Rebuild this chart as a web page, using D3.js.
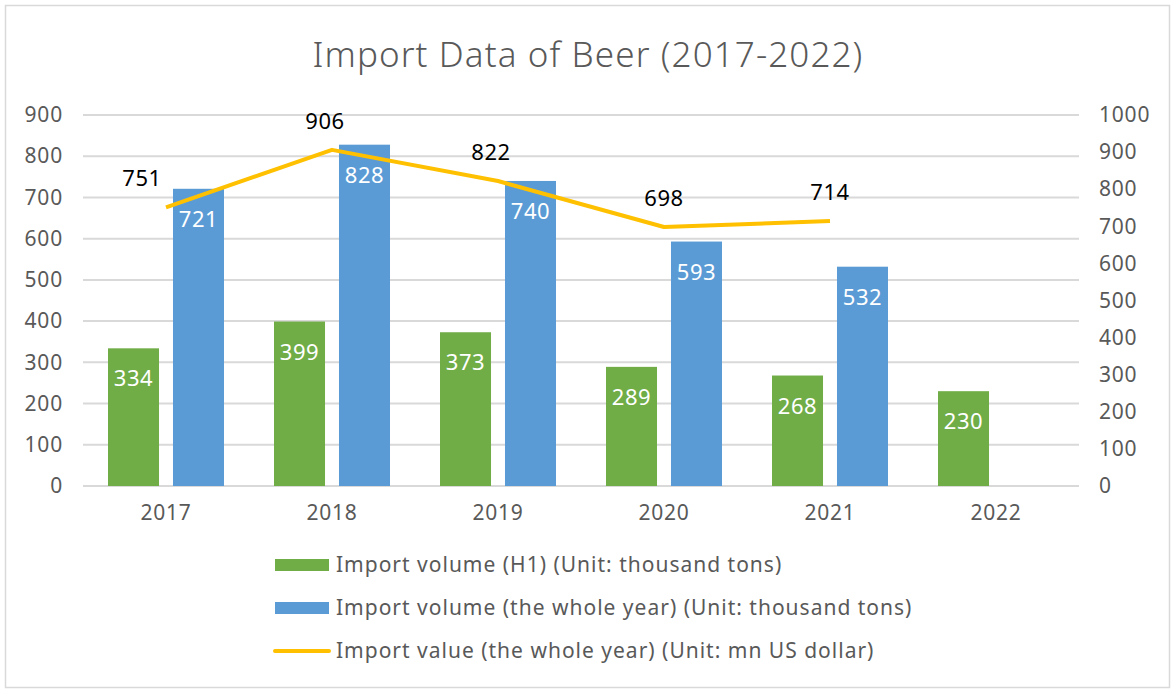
<!DOCTYPE html>
<html>
<head>
    <title>Import Data of Beer</title>
    <script src="https://d3js.org/d3.v7.min.js"></script>
    <style>
        body { margin: 0; background: #fff; }
        text { font-family: "Noto Sans", "DejaVu Sans", sans-serif; }
        .tick-label { font-size: 21px; fill: #595959; letter-spacing: 0.8px; }
        .grid line { stroke: #d9d9d9; stroke-width: 2; }
    </style>
</head>
<body>
    <svg width="1175" height="693"></svg>

    <script>
        // Chart data
        const years = ["2017", "2018", "2019", "2020", "2021", "2022"];
        const volumeH1 = [334, 399, 373, 289, 268, 230];
        const volumeYear = [721, 828, 740, 593, 532, null];
        const valueYear = [751, 906, 822, 698, 714, null];
        const leftTicks = [0, 100, 200, 300, 400, 500, 600, 700, 800, 900];
        const rightTicks = [0, 100, 200, 300, 400, 500, 600, 700, 800, 900, 1000];
        const seriesNames = [
            "Import volume (H1) (Unit: thousand tons)",
            "Import volume (the whole year) (Unit: thousand tons)",
            "Import value (the whole year) (Unit: mn US dollar)"
        ];

        const green = "#70ad47", blue = "#5b9bd5", gold = "#ffc000";

        const svg = d3.select("svg");
        const width = +svg.attr("width");
        const height = +svg.attr("height");

        // outer frame
        svg.append("rect")
            .attr("x", 5.5).attr("y", 5.5)
            .attr("width", width - 11).attr("height", height - 11)
            .attr("fill", "#fff")
            .attr("stroke", "#d9d9d9")
            .attr("stroke-width", 1.5);

        const plot = { left: 83, right: 1079, top: 115, bottom: 486 };

        const x = d3.scaleBand()
            .domain(years)
            .range([plot.left, plot.right]);

        const inner = d3.scaleBand()
            .domain([0, 1])
            .range([0, 116])
            .paddingInner(0.215);

        const yLeft = d3.scaleLinear().domain([0, 900]).range([plot.bottom, plot.top]);
        const yRight = d3.scaleLinear().domain([0, 1000]).range([plot.bottom, plot.top]);

        // title
        svg.append("text")
            .attr("x", 588)
            .attr("y", 67)
            .attr("text-anchor", "middle")
            .attr("font-size", 35)
            .attr("font-weight", 300)
            .attr("letter-spacing", 1.1)
            .attr("fill", "#595959")
            .text("Import Data of Beer (2017-2022)");

        // gridlines
        svg.append("g")
            .attr("class", "grid")
            .selectAll("line")
            .data(leftTicks)
            .enter().append("line")
            .attr("x1", plot.left)
            .attr("x2", plot.right)
            .attr("y1", d => yLeft(d))
            .attr("y2", d => yLeft(d));

        // left axis
        const leftAxis = svg.append("g")
            .attr("transform", `translate(${plot.left - 20},0)`)
            .call(d3.axisLeft(yLeft).tickValues(leftTicks).tickFormat(d3.format("d")).tickSize(0).tickPadding(0));
        leftAxis.select(".domain").remove();
        leftAxis.selectAll("text").attr("class", "tick-label").attr("font-size", null).attr("fill", null);

        // right axis
        const rightAxis = svg.append("g")
            .attr("transform", `translate(${plot.right + 20},0)`)
            .call(d3.axisRight(yRight).tickValues(rightTicks).tickFormat(d3.format("d")).tickSize(0).tickPadding(0));
        rightAxis.select(".domain").remove();
        rightAxis.selectAll("text").attr("class", "tick-label").attr("font-size", null).attr("fill", null);

        // bottom axis
        const bottomAxis = svg.append("g")
            .attr("transform", `translate(0,${plot.bottom + 19})`)
            .call(d3.axisBottom(x).tickSize(0).tickPadding(0));
        bottomAxis.select(".domain").remove();
        bottomAxis.selectAll("text").attr("class", "tick-label").attr("font-size", null).attr("fill", null)
            .attr("dy", "0.71em");

        // bars
        const groupOffset = (x.bandwidth() - inner.range()[1]) / 2;
        const seriesBars = [
            { values: volumeH1, color: green, idx: 0 },
            { values: volumeYear, color: blue, idx: 1 }
        ];

        seriesBars.forEach(s => {
            const data = years.map((yr, i) => ({ year: yr, v: s.values[i] })).filter(d => d.v != null);
            const g = svg.append("g");
            g.selectAll("rect")
                .data(data)
                .enter().append("rect")
                .attr("x", d => x(d.year) + groupOffset + inner(s.idx))
                .attr("y", d => yLeft(d.v))
                .attr("width", inner.bandwidth())
                .attr("height", d => yLeft(0) - yLeft(d.v))
                .attr("fill", s.color);
            g.selectAll("text")
                .data(data)
                .enter().append("text")
                .attr("x", d => x(d.year) + groupOffset + inner(s.idx) + inner.bandwidth() / 2)
                .attr("y", d => yLeft(d.v) + 38)
                .attr("text-anchor", "middle")
                .attr("font-size", 22)
                .attr("letter-spacing", 0.5)
                .attr("fill", "#fff")
                .text(d => d.v);
        });

        // line
        const lineData = years.map((yr, i) => ({ year: yr, v: valueYear[i] })).filter(d => d.v != null);
        const line = d3.line()
            .x(d => x(d.year) + x.bandwidth() / 2)
            .y(d => yRight(d.v));

        svg.append("path")
            .datum(lineData)
            .attr("d", line)
            .attr("fill", "none")
            .attr("stroke", gold)
            .attr("stroke-width", 4)
            .attr("stroke-linejoin", "round");

        svg.append("g")
            .selectAll("text")
            .data(lineData)
            .enter().append("text")
            .attr("x", (d, i) => x(d.year) + x.bandwidth() / 2 - (i === 0 ? 24 : i < 3 ? 7 : 0))
            .attr("y", d => yRight(d.v) - 21)
            .attr("text-anchor", "middle")
            .attr("font-size", 22)
            .attr("letter-spacing", 0.5)
            .attr("fill", "#000")
            .text(d => d.v);

        // legend
        const legend = svg.append("g");
        const legendRows = [565, 608, 651];
        seriesNames.forEach((name, i) => {
            const ly = legendRows[i];
            if (i < 2) {
                legend.append("rect")
                    .attr("x", 275).attr("y", ly - 6)
                    .attr("width", 54).attr("height", 12)
                    .attr("fill", i === 0 ? green : blue);
            } else {
                legend.append("line")
                    .attr("x1", 275).attr("x2", 329)
                    .attr("y1", ly).attr("y2", ly)
                    .attr("stroke", gold)
                    .attr("stroke-width", 4)
                    .attr("stroke-linecap", "round");
            }
            legend.append("text")
                .attr("x", 336)
                .attr("y", ly)
                .attr("dy", "0.35em")
                .attr("font-size", 21)
                .attr("letter-spacing", 1)
                .attr("fill", "#595959")
                .text(name);
        });
    </script>
</body>
</html>
